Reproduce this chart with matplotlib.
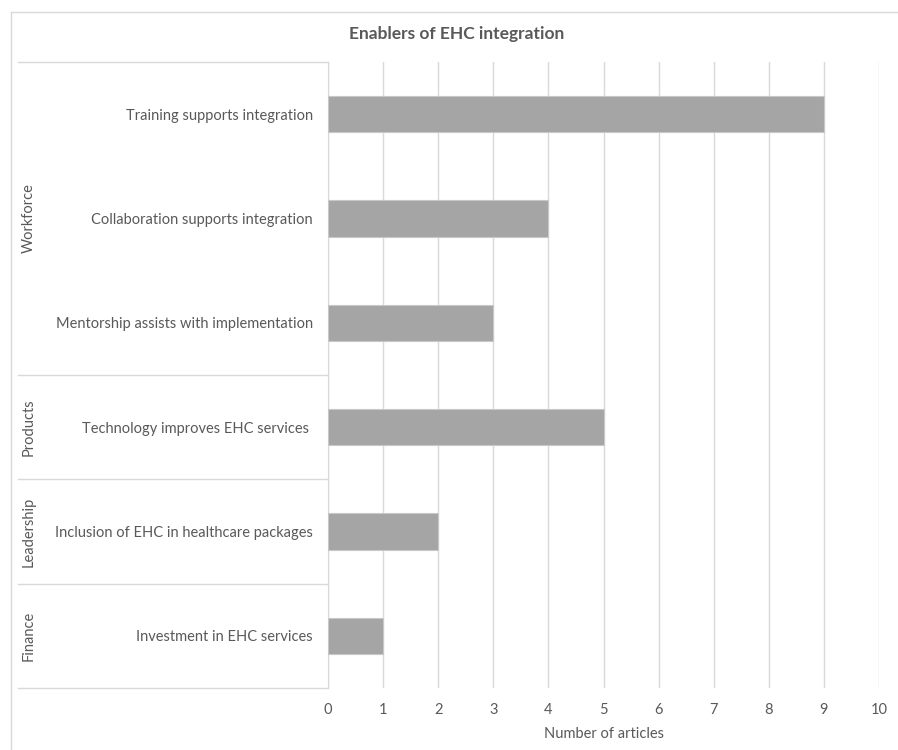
import matplotlib.pyplot as plt
from matplotlib.lines import Line2D

# data
enablers = ["Training supports integration",
            "Collaboration supports integration",
            "Mentorship assists with implementation",
            "Technology improves EHC services ",
            "Inclusion of EHC in healthcare packages",
            "Investment in EHC services"]
articles = [9, 4, 3, 5, 2, 1]
groups = ["Workforce", "Products", "Leadership", "Finance"]
group_sizes = [3, 1, 1, 1]

txt = "#595959"
line_c = "#d9d9d9"
plt.rcParams['font.family'] = ['Lato', 'DejaVu Sans']

W, H = 898, 750
fig = plt.figure(figsize=(W / 100, H / 100), dpi=100)

# chart frame (only top/left visible in the crop)
fig.add_artist(Line2D([10.5 / W, 10.5 / W], [0, 1 - 11.5 / H], transform=fig.transFigure, color=line_c, lw=1))
fig.add_artist(Line2D([10.5 / W, 1], [1 - 11.5 / H, 1 - 11.5 / H], transform=fig.transFigure, color=line_c, lw=1))

ax = fig.add_axes([328 / W, 62 / H, (879 - 328) / W, (688 - 62) / H])
ypos = list(range(len(enablers)))
ax.barh(ypos, articles, height=0.35, color="#a5a5a5", edgecolor="#c8c8c8", lw=0.8, zorder=3)
ax.set_ylim(len(enablers) - 0.5, -0.5)
ax.set_xlim(0, 10)
ax.set_xticks(range(0, 11))
ax.set_yticks(ypos)
ax.set_yticklabels(enablers)
ax.tick_params(axis="y", length=0, pad=11, labelsize=10.5, labelcolor=txt)
ax.tick_params(axis="x", length=0, pad=11, labelsize=10.5, labelcolor=txt)
ax.grid(axis="x", color=line_c, lw=1, zorder=0)
for s in ["top", "right", "bottom"]:
    ax.spines[s].set_visible(False)
ax.spines["left"].set_color(line_c)
ax.set_xlabel("Number of articles", color=txt, fontsize=10.5, labelpad=7)

# category group separators and labels
xl = (18 - 328) / (879 - 328)
xg = (29 - 328) / (879 - 328)
tr = ax.get_yaxis_transform()
start = -0.5
ax.plot([xl, 0], [start, start], transform=tr, color=line_c, lw=1, clip_on=False)
for g, n in zip(groups, group_sizes):
    end = start + n
    ax.plot([xl, 0], [end, end], transform=tr, color=line_c, lw=1, clip_on=False)
    ax.text(xg, (start + end) / 2, g, transform=tr, rotation=90, ha="center", va="center",
            fontsize=10.5, color=txt)
    start = end

fig.text(457 / W, 1 - 34 / H, "Enablers of EHC integration", ha="center", va="center",
         fontsize=12.5, fontweight="bold", color=txt)

fig.savefig("out.png", dpi=100)
